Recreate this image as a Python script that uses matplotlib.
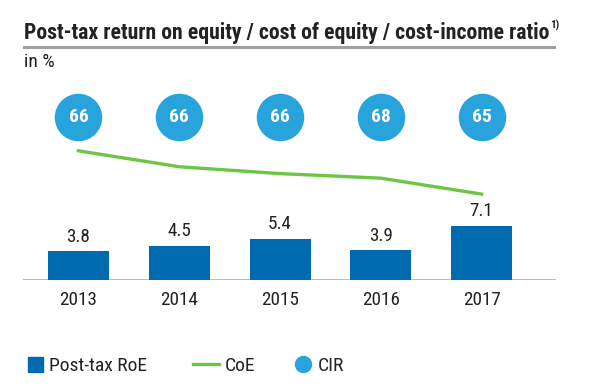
import matplotlib
matplotlib.use("Agg")
import matplotlib.pyplot as plt
from matplotlib import font_manager as fm
from matplotlib.lines import Line2D

years = ["2013", "2014", "2015", "2016", "2017"]
roe = [3.8, 4.5, 5.4, 3.9, 7.1]
coe = [17.0, 14.9, 14.0, 13.4, 11.3]
cir = [66, 66, 66, 68, 65]

BAR_C = "#006aae"
LINE_C = "#6cc644"
CIR_C = "#29a3dc"
TXT_C = "#222222"

names = {f.name for f in fm.fontManager.ttflist}
narrow = None
for cand in ["Roboto Condensed", "Liberation Sans Narrow", "Open Sans Condensed", "DejaVu Sans Condensed"]:
    if cand in names:
        narrow = cand
        break
if narrow is None:
    narrow = "Liberation Sans"
plt.rcParams["font.family"] = [narrow, "DejaVu Sans"]

W, H = 590, 390
fig = plt.figure(figsize=(W / 100, H / 100), dpi=100)

def fx(px):
    return px / W

def fy(py):
    return 1 - py / H

# axes: x from 23.5 to 555.7 px, y from 280 (bottom) to 90 (top)
ax = fig.add_axes([fx(23.5), fy(280), fx(555.7) - fx(23.5), fy(90) - fy(280)])
ax.set_xlim(-0.545, 4.735)
ax.set_ylim(0, 25)
ax.axis("off")

x = list(range(len(years)))
bars = ax.bar(x, roe, width=0.605, color=BAR_C, zorder=2)
line, = ax.plot(x, coe, color=LINE_C, lw=2.4, zorder=2)
CIR_Y = 21.5
circ = ax.scatter(x, [CIR_Y] * len(x), s=(47.5 * 0.72) ** 2, color=CIR_C, zorder=3, linewidths=0)

for xi, v in zip(x, roe):
    ax.annotate(f"{v:.1f}", (xi, v), xytext=(0, 4), textcoords="offset points",
                ha="center", va="bottom", fontsize=13.8, color=TXT_C)
for xi, v in zip(x, cir):
    ax.text(xi, CIR_Y, f"{v}", ha="center", va="center", fontsize=14,
            fontweight="bold", color="white", zorder=4)
for xi, yr in zip(x, years):
    ax.annotate(yr, (xi, 0), xytext=(0, -8), textcoords="offset points",
                ha="center", va="top", fontsize=13.8, color=TXT_C)

# baseline
ax.axhline(0, color="#a6a6a6", lw=1.8, zorder=1)

# title and underline
title = fig.text(fx(24), fy(39), "Post-tax return on equity / cost of equity / cost-income ratio",
                 fontsize=15.7, fontweight="bold", color=TXT_C, va="baseline", ha="left")
ax.annotate("1)", xy=(1, 1), xycoords=title, xytext=(0.8, 1.5), textcoords="offset points",
            ha="left", va="top", fontsize=7.8, fontweight="bold", color=TXT_C,
            annotation_clip=False)
fig.add_artist(Line2D([fx(24), fx(554)], [fy(46.5), fy(46.5)], color="#a0a0a0", lw=2.2))
fig.text(fx(24), fy(66.7), "in %", fontsize=14, color=TXT_C, va="baseline", ha="left")

# legend: three single-entry legends placed side by side
entries = [
    (Line2D([], [], marker="s", ls="none", color=BAR_C, markersize=10.8), "Post-tax RoE", 26),
    (Line2D([], [], color=LINE_C, lw=2.4), "CoE", 193),
    (Line2D([], [], marker="o", ls="none", color=CIR_C, markersize=11.5), "CIR", 294),
]
for h, lab, px in entries:
    hl = 0.9 if lab != "CoE" else 1.35
    fig.legend([h], [lab], loc="center left", bbox_to_anchor=(fx(px), fy(365.7)),
               frameon=False, fontsize=14, handlelength=hl, handletextpad=0.3,
               borderpad=0, borderaxespad=0, labelcolor=TXT_C)

fig.savefig("out.png", dpi=100, facecolor="white")
